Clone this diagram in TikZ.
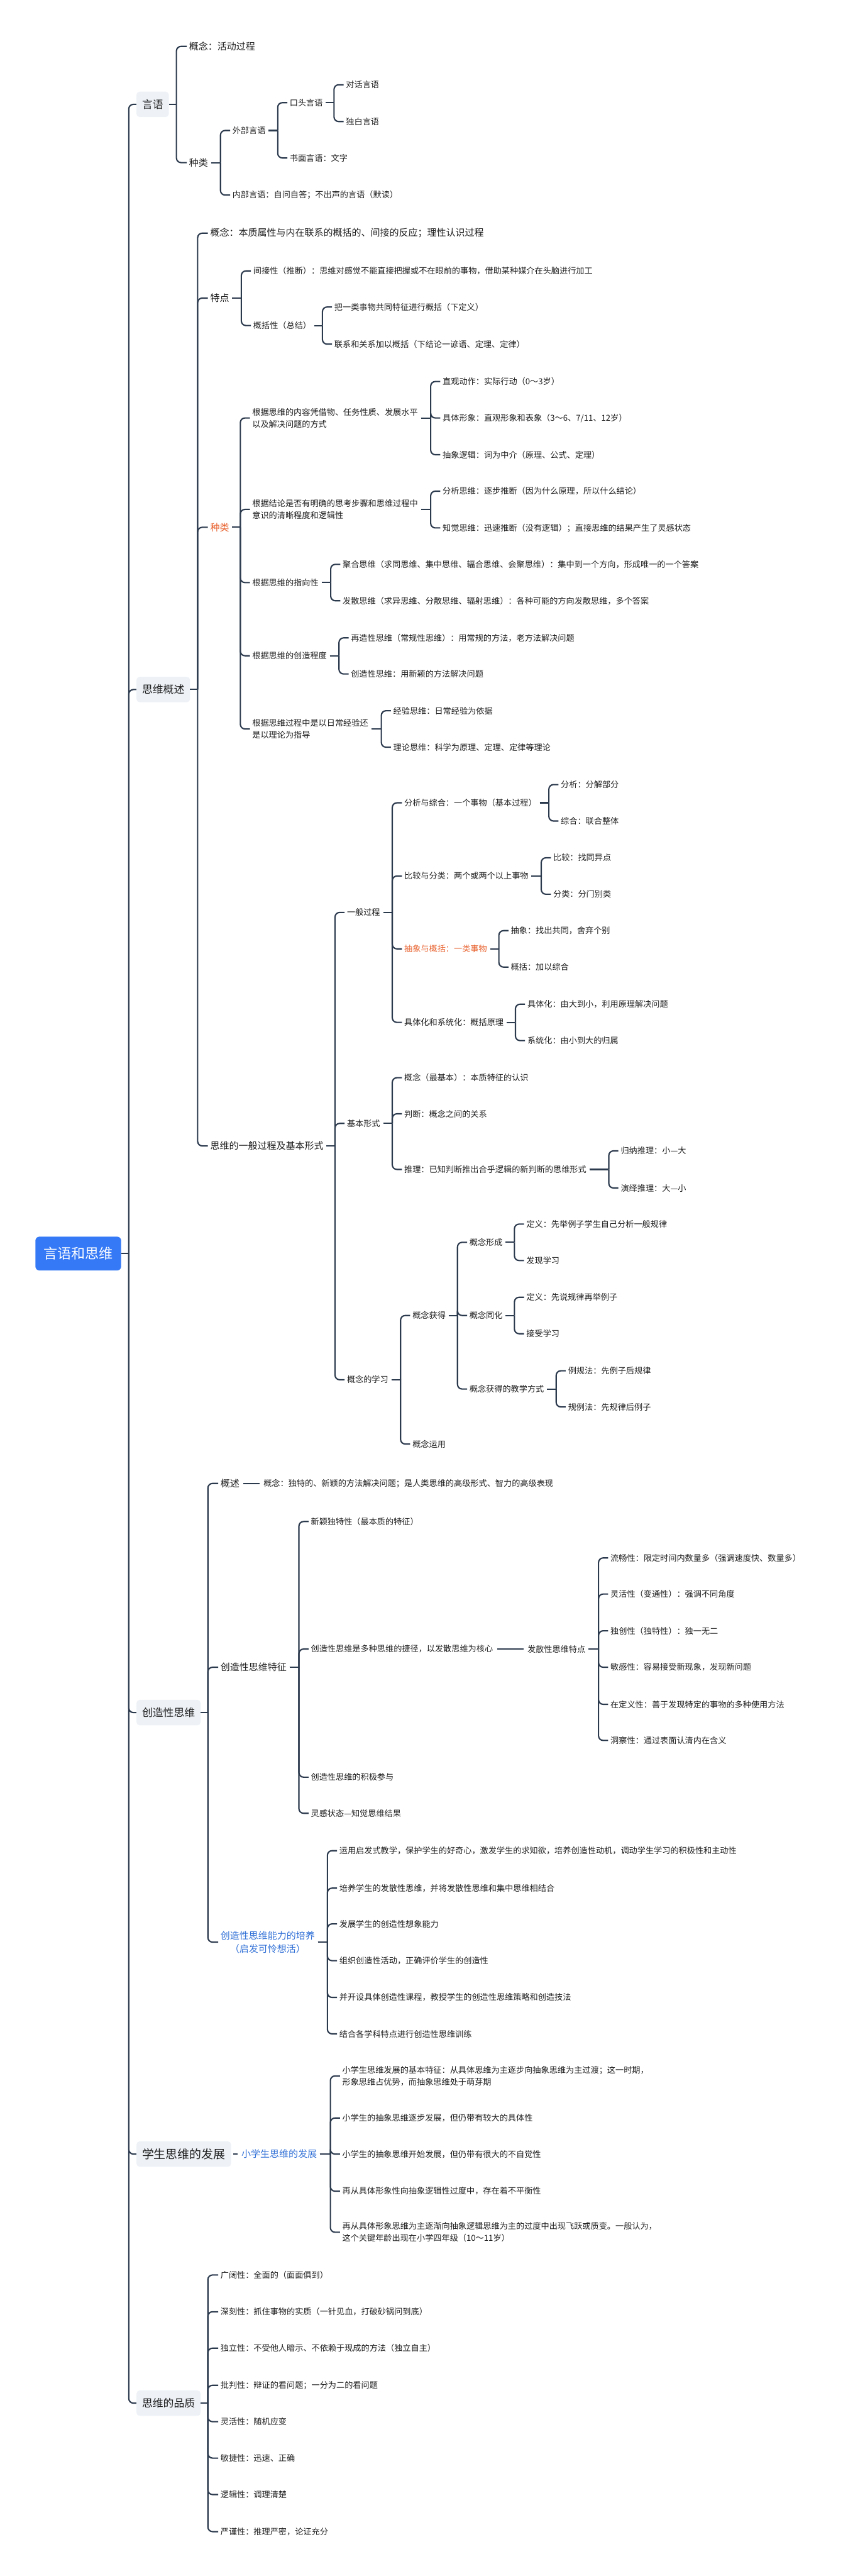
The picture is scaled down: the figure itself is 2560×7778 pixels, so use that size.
\documentclass[tikz,border=0pt]{standalone}
\usepackage{fontspec}
\setmainfont{Noto Sans CJK SC}
\usetikzlibrary{calc}
\definecolor{lncol}{HTML}{2C3A4E}
\definecolor{txt}{HTML}{1E1E1E}
\definecolor{rootc}{HTML}{3579F6}
\definecolor{boxc}{HTML}{EEF2F7}
\definecolor{orng}{HTML}{E8602C}
\definecolor{blu}{HTML}{2F6FD6}
\newcommand\cnx[2]{%
  \coordinate (vv) at ($(#2.west)+(-36,0)$);
  \draw[ln] ($(#1.east)+(9,0)$) -- (vv |- #1.east);
  \draw[ln] (vv |- #1.east) |- ($(#2.west)+(-7,0)$);}
\newcommand\cnxi[2]{%
  \draw[ln] ($(#1.east)+(12,0)$) -- ($(#2.west)+(-12,0)$);}
\newcommand\cnxb[2]{%
  \coordinate (vv) at ($(#2.west)+(-38,0)$);
  \draw[ln] (#1.east) -- (vv |- #1.east);
  \draw[ln] (vv |- #1.east) |- ($(#2.west)+(-7,0)$);}
\newcommand\cnxr[2]{%
  \coordinate (vv) at ($(#2.west)+(-23,0)$);
  \draw[ln] (#1.east) -- (vv |- #1.east);
  \draw[ln] (vv |- #1.east) |- (#2.west);}
\begin{document}
\begin{tikzpicture}[x=1pt,y=-1pt,
  t/.style={anchor=west,inner sep=0pt,text=txt,align=left,font=\fontsize{25}{36}\selectfont},
  t2/.style={t,font=\fontsize{28.5}{40}\selectfont},
  bx/.style={anchor=west,fill=boxc,rounded corners=10pt,inner xsep=17pt,inner ysep=0pt,minimum height=77pt,text=txt,font=\fontsize{32}{38}\selectfont},
  rt/.style={fill=rootc,text=white,rounded corners=12pt,minimum width=259pt,minimum height=102pt,inner sep=0pt,font=\fontsize{42}{50}\selectfont},
  ln/.style={draw=lncol,line width=4pt,rounded corners=14pt}]
\useasboundingbox (0,0) rectangle (2560,7778);
\fill[white] (0,0) rectangle (2560,7778);

% root
\node[rt] (R) at (236.5,3785) {言语和思维};

% ---------- 言语
\node[bx] (A) at (412,315) {言语};
\node[t2] (a1) at (571,140) {概念：活动过程};
\node[t2] (a2) at (571,491) {种类};
\node[t] (a21) at (702,394) {外部言语};
\node[t] (a211) at (875,310) {口头言语};
\node[t] (a2111) at (1045,256) {对话言语};
\node[t] (a2112) at (1045,367) {独白言语};
\node[t] (a212) at (875,477) {书面言语：文字};
\node[t] (a22) at (702,589) {内部言语：自问自答；不出声的言语（默读）};
\cnxb{A}{a1}\cnxb{A}{a2}
\cnx{a2}{a21}\cnx{a2}{a22}
\cnx{a21}{a211}\cnx{a21}{a212}
\cnx{a211}{a2111}\cnx{a211}{a2112}

% ---------- 思维概述
\node[bx] (B) at (412,2082) {思维概述};
\node[t2] (b1) at (635,704) {概念：本质属性与内在联系的概括的、间接的反应；理性认识过程};
\node[t2] (b2) at (635,900) {特点};
\node[t] (b21) at (765,818) {间接性（推断）：思维对感觉不能直接把握或不在眼前的事物，借助某种媒介在头脑进行加工};
\node[t] (b22) at (765,983) {概括性（总结）};
\node[t] (b221) at (1010,927) {把一类事物共同特征进行概括（下定义）};
\node[t] (b222) at (1010,1039) {联系和关系加以概括（下结论一谚语、定理、定律）};
\node[t2,text=orng] (b3) at (635,1592) {种类};
\node[t] (b31) at (762,1262) {根据思维的内容凭借物、任务性质、发展水平\\以及解决问题的方式};
\node[t] (b311) at (1337,1152) {直观动作：实际行动（0～3岁）};
\node[t] (b312) at (1337,1262) {具体形象：直观形象和表象（3～6、7/11、12岁）};
\node[t] (b313) at (1337,1373) {抽象逻辑：词为中介（原理、公式、定理）};
\node[t] (b32) at (762,1538) {根据结论是否有明确的思考步骤和思维过程中\\意识的清晰程度和逻辑性};
\node[t] (b321) at (1337,1483) {分析思维：逐步推断（因为什么原理，所以什么结论）};
\node[t] (b322) at (1337,1594) {知觉思维：迅速推断（没有逻辑）；直接思维的结果产生了灵感状态};
\node[t] (b33) at (762,1759) {根据思维的指向性};
\node[t] (b331) at (1035,1704) {聚合思维（求同思维、集中思维、辐合思维、会聚思维）：集中到一个方向，形成唯一的一个答案};
\node[t] (b332) at (1035,1814) {发散思维（求异思维、分散思维、辐射思维）：各种可能的方向发散思维，多个答案};
\node[t] (b34) at (762,1980) {根据思维的创造程度};
\node[t] (b341) at (1060,1926) {再造性思维（常规性思维）：用常规的方法，老方法解决问题};
\node[t] (b342) at (1060,2035) {创造性思维：用新颖的方法解决问题};
\node[t] (b35) at (762,2201) {根据思维过程中是以日常经验还\\是以理论为指导};
\node[t] (b351) at (1188,2146) {经验思维：日常经验为依据};
\node[t] (b352) at (1188,2256) {理论思维：科学为原理、定理、定律等理论};
\node[t2] (b4) at (635,3460) {思维的一般过程及基本形式};
\node[t] (c1) at (1048,2755) {一般过程};
\node[t] (c11) at (1221,2424) {分析与综合：一个事物（基本过程）};
\node[t] (c111) at (1694,2369) {分析：分解部分};
\node[t] (c112) at (1694,2479) {综合：联合整体};
\node[t] (c12) at (1221,2645) {比较与分类：两个或两个以上事物};
\node[t] (c121) at (1671,2590) {比较：找同异点};
\node[t] (c122) at (1671,2700) {分类：分门别类};
\node[t,text=orng] (c13) at (1221,2865) {抽象与概括：一类事物};
\node[t] (c131) at (1543,2810) {抽象：找出共同，舍弃个别};
\node[t] (c132) at (1543,2920) {概括：加以综合};
\node[t] (c14) at (1221,3087) {具体化和系统化：概括原理};
\node[t] (c141) at (1593,3032) {具体化：由大到小，利用原理解决问题};
\node[t] (c142) at (1593,3142) {系统化：由小到大的归属};
\node[t] (c2) at (1048,3392) {基本形式};
\node[t] (c21) at (1221,3254) {概念（最基本）：本质特征的认识};
\node[t] (c22) at (1221,3363) {判断：概念之间的关系};
\node[t] (c23) at (1221,3531) {推理：已知判断推出合乎逻辑的新判断的思维形式};
\node[t] (c231) at (1875,3475) {归纳推理：小—大};
\node[t] (c232) at (1875,3587) {演绎推理：大—小};
\node[t] (c3) at (1048,4166) {概念的学习};
\node[t] (c31) at (1246,3972) {概念获得};
\node[t] (c311) at (1418,3751) {概念形成};
\node[t] (c3111) at (1590,3696) {定义：先举例子学生自己分析一般规律};
\node[t] (c3112) at (1590,3806) {发现学习};
\node[t] (c312) at (1418,3972) {概念同化};
\node[t] (c3121) at (1590,3917) {定义：先说规律再举例子};
\node[t] (c3122) at (1590,4027) {接受学习};
\node[t] (c313) at (1418,4194) {概念获得的教学方式};
\node[t] (c3131) at (1716,4139) {例规法：先例子后规律};
\node[t] (c3132) at (1716,4248) {规例法：先规律后例子};
\node[t] (c32) at (1246,4360) {概念运用};
\cnxb{B}{b1}\cnxb{B}{b2}\cnxb{B}{b3}\cnxb{B}{b4}
\cnx{b2}{b21}\cnx{b2}{b22}\cnx{b22}{b221}\cnx{b22}{b222}
\cnx{b3}{b31}\cnx{b3}{b32}\cnx{b3}{b33}\cnx{b3}{b34}\cnx{b3}{b35}
\cnx{b31}{b311}\cnx{b31}{b312}\cnx{b31}{b313}
\cnx{b32}{b321}\cnx{b32}{b322}
\cnx{b33}{b331}\cnx{b33}{b332}
\cnx{b34}{b341}\cnx{b34}{b342}
\cnx{b35}{b351}\cnx{b35}{b352}
\cnx{b4}{c1}\cnx{b4}{c2}\cnx{b4}{c3}
\cnx{c1}{c11}\cnx{c1}{c12}\cnx{c1}{c13}\cnx{c1}{c14}
\cnx{c11}{c111}\cnx{c11}{c112}\cnx{c12}{c121}\cnx{c12}{c122}
\cnx{c13}{c131}\cnx{c13}{c132}\cnx{c14}{c141}\cnx{c14}{c142}
\cnx{c2}{c21}\cnx{c2}{c22}\cnx{c2}{c23}\cnx{c23}{c231}\cnx{c23}{c232}
\cnx{c3}{c31}\cnx{c3}{c32}
\cnx{c31}{c311}\cnx{c31}{c312}\cnx{c31}{c313}
\cnx{c311}{c3111}\cnx{c311}{c3112}
\cnx{c312}{c3121}\cnx{c312}{c3122}
\cnx{c313}{c3131}\cnx{c313}{c3132}

% ---------- 创造性思维
\node[bx] (C) at (412,5171) {创造性思维};
\node[t2] (d1) at (666,4479) {概述};
\node[t] (d11) at (796,4479) {概念：独特的、新颖的方法解决问题；是人类思维的高级形式、智力的高级表现};
\node[t2] (d2) at (666,5034) {创造性思维特征};
\node[t] (d21) at (939,4594) {新颖独特性（最本质的特征）};
\node[t] (d22) at (939,4979) {创造性思维是多种思维的捷径，以发散思维为核心};
\node[t] (d221) at (1593,4979) {发散性思维特点};
\node[t] (e1) at (1844,4704) {流畅性：限定时间内数量多（强调速度快、数量多）};
\node[t] (e2) at (1844,4813) {灵活性（变通性）：强调不同角度};
\node[t] (e3) at (1844,4924) {独创性（独特性）：独一无二};
\node[t] (e4) at (1844,5034) {敏感性：容易接受新现象，发现新问题};
\node[t] (e5) at (1844,5146) {在定义性：善于发现特定的事物的多种使用方法};
\node[t] (e6) at (1844,5255) {洞察性：通过表面认清内在含义};
\node[t] (d23) at (939,5366) {创造性思维的积极参与};
\node[t] (d24) at (939,5475) {灵感状态—知觉思维结果};
\node[t2,text=blu,align=center] (d3) at (666,5864) {创造性思维能力的培养\\（启发可怜想活）};
\node[t] (f1) at (1025,5588) {运用启发式教学，保护学生的好奇心，激发学生的求知欲，培养创造性动机，调动学生学习的积极性和主动性};
\node[t] (f2) at (1025,5701) {培养学生的发散性思维，并将发散性思维和集中思维相结合};
\node[t] (f3) at (1025,5809) {发展学生的创造性想象能力};
\node[t] (f4) at (1025,5920) {组织创造性活动，正确评价学生的创造性};
\node[t] (f5) at (1025,6031) {并开设具体创造性课程，教授学生的创造性思维策略和创造技法};
\node[t] (f6) at (1025,6141) {结合各学科特点进行创造性思维训练};
\cnxb{C}{d1}\cnxb{C}{d2}\cnxb{C}{d3}
\cnxi{d1}{d11}
\cnx{d2}{d21}\cnx{d2}{d22}\cnx{d2}{d23}\cnx{d2}{d24}
\cnxi{d22}{d221}
\cnx{d221}{e1}\cnx{d221}{e2}\cnx{d221}{e3}\cnx{d221}{e4}\cnx{d221}{e5}\cnx{d221}{e6}
\cnx{d3}{f1}\cnx{d3}{f2}\cnx{d3}{f3}\cnx{d3}{f4}\cnx{d3}{f5}\cnx{d3}{f6}

% ---------- 学生思维的发展
\node[bx,font=\fontsize{36}{42}\selectfont] (D) at (412,6504) {学生思维的发展};
\node[t2,text=blu] (g1) at (729,6504) {小学生思维的发展};
\node[t] (g11) at (1034,6268) {小学生思维发展的基本特征：从具体思维为主逐步向抽象思维为主过渡；这一时期，\\形象思维占优势，而抽象思维处于萌芽期};
\node[t] (g12) at (1034,6395) {小学生的抽象思维逐步发展，但仍带有较大的具体性};
\node[t] (g13) at (1034,6504) {小学生的抽象思维开始发展，但仍带有很大的不自觉性};
\node[t] (g14) at (1034,6616) {再从具体形象性向抽象逻辑性过度中，存在着不平衡性};
\node[t] (g15) at (1034,6740) {再从具体形象思维为主逐渐向抽象逻辑思维为主的过度中出现飞跃或质变。一般认为，\\这个关键年龄出现在小学四年级（10～11岁）};
\draw[ln] ($(D.east)+(6,0)$) -- ($(g1.west)+(-12,0)$);
\cnx{g1}{g11}\cnx{g1}{g12}\cnx{g1}{g13}\cnx{g1}{g14}\cnx{g1}{g15}

% ---------- 思维的品质
\node[bx] (E) at (412,7256) {思维的品质};
\node[t] (h1) at (666,6869) {广阔性：全面的（面面俱到）};
\node[t] (h2) at (666,6980) {深刻性：抓住事物的实质（一针见血，打破砂锅问到底）};
\node[t] (h3) at (666,7090) {独立性：不受他人暗示、不依赖于现成的方法（独立自主）};
\node[t] (h4) at (666,7202) {批判性：辩证的看问题；一分为二的看问题};
\node[t] (h5) at (666,7312) {灵活性：随机应变};
\node[t] (h6) at (666,7422) {敏捷性：迅速、正确};
\node[t] (h7) at (666,7532) {逻辑性：调理清楚};
\node[t] (h8) at (666,7644) {严谨性：推理严密，论证充分};
\cnxb{E}{h1}\cnxb{E}{h2}\cnxb{E}{h3}\cnxb{E}{h4}\cnxb{E}{h5}\cnxb{E}{h6}\cnxb{E}{h7}\cnxb{E}{h8}

% trunk
\cnxr{R}{A}\cnxr{R}{B}\cnxr{R}{C}\cnxr{R}{D}\cnxr{R}{E}
\end{tikzpicture}
\end{document}
